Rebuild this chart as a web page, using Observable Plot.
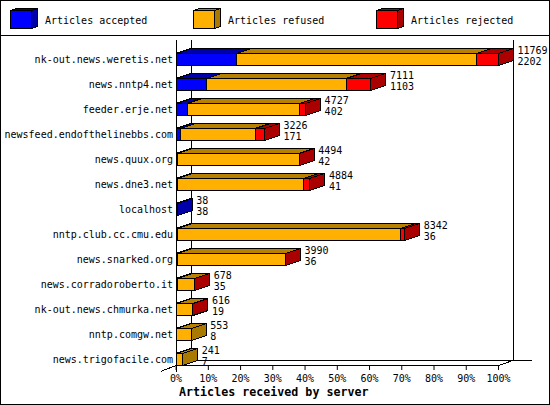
<!DOCTYPE html>
<html><head><meta charset="utf-8">
<script src="https://cdn.jsdelivr.net/npm/d3@7"></script>
<script src="https://cdn.jsdelivr.net/npm/@observablehq/plot@0.6"></script>
<style>
html,body{margin:0;padding:0;background:#fff}
#frame{width:550px;height:405px;box-sizing:border-box;border:1px solid #000;font-family:"DejaVu Sans Mono",monospace;position:relative;overflow:hidden}
#legend{height:34px;border-bottom:1px solid #000;position:relative}
#legend span{position:absolute;top:14px;font-size:10px;line-height:12px;white-space:pre}
#legend svg{position:absolute;top:6px}
#chart svg{display:block}
</style></head><body>
<div id="frame"><div id="legend"></div><div id="chart"></div></div>
<script>
const servers = ["nk-out.news.weretis.net","news.nntp4.net","feeder.erje.net","newsfeed.endofthelinebbs.com","news.quux.org","news.dne3.net","localhost","nntp.club.cc.cmu.edu","news.snarked.org","news.corradoroberto.it","nk-out.news.chmurka.net","nntp.comgw.net","news.trigofacile.com"];
const offered  = [11769,7111,4727,3226,4494,4884,38,8342,3990,678,616,553,241];
const accepted = [2202,1103,402,171,42,41,38,36,36,35,19,8,7];
const rejected = [805,905,235,344,4,234,0,146,5,5,5,0,0];
const seriesNames = ["Articles accepted","Articles refused","Articles rejected"];
const frontColors = ["#0000ff","#ffb000","#ff0000"];
const topColors   = ["#0000aa","#b88000","#aa0000"];
const sideColors  = ["#0000aa","#aa7a00","#aa0000"];
const xTicks = [0,10,20,30,40,50,60,70,80,90,100];
const xTitle = "Articles received by server";

const maxOffered = d3.max(offered);
const depthX = 4.66, depthY = 0.2, half = 0.24;
const polys = [];
function poly(id, color, pts){ pts.concat([pts[0]]).forEach(p => polys.push({id, color, x:p[0], y:p[1]})); }
const labels = [];
servers.forEach((s,i) => {
  const vals = [accepted[i], offered[i]-accepted[i]-rejected[i], rejected[i]];
  let cum = 0, last = 0;
  const segs = [];
  vals.forEach((v,k) => { if (v>0){ const a = cum/maxOffered*100; cum += v; segs.push({k,a,b:cum/maxOffered*100}); last = k; }});
  const y0 = i-half, y1 = i+half;
  segs.forEach(g => poly(`t${i}-${g.k}`, topColors[g.k], [[g.a,y0],[g.b,y0],[g.b+depthX,y0-depthY],[g.a+depthX,y0-depthY]]));
  const end = cum/maxOffered*100;
  poly(`s${i}`, sideColors[last], [[end,y0],[end+depthX,y0-depthY],[end+depthX,y1-depthY],[end,y1]]);
  segs.forEach(g => poly(`f${i}-${g.k}`, frontColors[g.k], [[g.a,y0],[g.b,y0],[g.b,y1],[g.a,y1]]));
  labels.push({x:end+depthX, y:i-0.36, t:String(offered[i])}, {x:end+depthX, y:i+0.08, t:String(accepted[i])});
});
const guide = [
  [[0,-0.76],[0,12.47]],
  [[depthX,-0.76],[depthX,12.03]],
  [[100+depthX,-0.76],[100+depthX,12.03]],
  [[0,12.24],[100,12.24]],
  [[depthX,12.03],[110.4,12.03]],
  [[-depthX,12.47],[0,12.24]],
  [[100,12.24],[100+depthX,12.03]]
].flatMap((l,n)=>l.map(p=>({n,x:p[0],y:p[1]})));

const W = 548, H = 368;
const chart = Plot.plot({
  width:W, height:H, marginLeft:174.6, marginRight:W-497, marginTop:0, marginBottom:39,
  style:{fontFamily:'"DejaVu Sans Mono",monospace',fontSize:"10px",color:"#000",background:"#fff"},
  x:{domain:[0,100]},
  y:{domain:[0,12], range:[23,323]},
  marks:[
    Plot.line(guide,{x:"x",y:"y",z:"n",stroke:"#000",strokeWidth:1,shapeRendering:"crispEdges"}),
    Plot.axisY({anchor:"left",ticks:d3.range(servers.length),tickFormat:i=>servers[i],tickSize:0,tickPadding:3,label:null,fontSize:10,fill:"#000"}),
    Plot.axisX({anchor:"bottom",ticks:xTicks,tickFormat:d=>d+"%",tickSize:5,tickPadding:4,label:null,fontSize:10,stroke:"#000"}),
    Plot.line(polys,{x:"x",y:"y",z:"id",fill:"color",stroke:"#000",strokeWidth:1,strokeLinejoin:"miter",shapeRendering:"crispEdges"}),
    Plot.text(labels,{x:"x",y:"y",text:"t",dx:4,textAnchor:"start",fontSize:10,fill:"#000"}),
    Plot.text([xTitle],{x:30.3,y:13.3,text:d=>d,fontSize:11.67,fontWeight:"bold",fill:"#000"})
  ]
});
document.getElementById("chart").append(chart);

const legend = d3.select("#legend");
const legendX = [8,191,374];
seriesNames.forEach((n,k) => {
  const x = legendX[k];
  const s = legend.append("svg").attr("width",32).attr("height",24).style("left",x+"px").attr("shape-rendering","crispEdges");
  s.append("polygon").attr("points","1.5,3.5 7.5,1.5 28.5,1.5 22.5,3.5").attr("fill",topColors[k]).attr("stroke","#000");
  s.append("polygon").attr("points","22.5,3.5 28.5,1.5 28.5,19.5 22.5,21.5").attr("fill",sideColors[k]).attr("stroke","#000");
  s.append("rect").attr("x",1.5).attr("y",3.5).attr("width",21).attr("height",18).attr("fill",frontColors[k]).attr("stroke","#000");
  legend.append("span").text(n).style("left",(x+36)+"px");
});
</script></body></html>
